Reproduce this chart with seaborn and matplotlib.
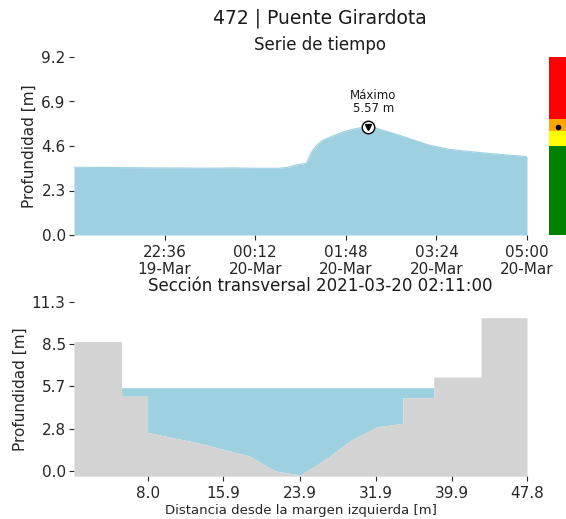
import matplotlib
matplotlib.use("Agg")
import matplotlib.pyplot as plt
import seaborn as sns
import numpy as np
import pandas as pd

# ---------------- data ----------------
series_times = ["2021-03-19 21:00", "2021-03-19 21:38", "2021-03-19 22:20", "2021-03-19 23:02",
                "2021-03-19 23:23", "2021-03-19 23:48", "2021-03-20 00:11", "2021-03-20 00:37",
                "2021-03-20 00:47", "2021-03-20 00:55", "2021-03-20 01:06", "2021-03-20 01:08",
                "2021-03-20 01:11", "2021-03-20 01:14", "2021-03-20 01:18", "2021-03-20 01:23",
                "2021-03-20 01:30", "2021-03-20 01:41", "2021-03-20 01:46", "2021-03-20 01:54",
                "2021-03-20 02:02", "2021-03-20 02:11", "2021-03-20 02:20", "2021-03-20 02:26",
                "2021-03-20 02:44", "2021-03-20 03:02", "2021-03-20 03:16", "2021-03-20 03:37",
                "2021-03-20 03:58", "2021-03-20 04:19", "2021-03-20 04:40", "2021-03-20 05:00"]
series_depth = [3.50, 3.49, 3.47, 3.46,
                3.45, 3.47, 3.45, 3.45,
                3.50, 3.62, 3.70, 3.90,
                4.22, 4.45, 4.68, 4.88,
                5.03, 5.25, 5.34, 5.45,
                5.53, 5.57, 5.53, 5.43,
                5.17, 4.87, 4.65, 4.43,
                4.32, 4.22, 4.13, 4.05]
max_time = "2021-03-20 02:11"
max_depth = 5.57
time_ticks = ["2021-03-19 22:36", "2021-03-20 00:12", "2021-03-20 01:48",
              "2021-03-20 03:24", "2021-03-20 05:00"]
top_yticks = [0.0, 2.3, 4.6, 6.9, 9.2]

# alert levels (lower, upper, colour)
level_bounds = [0.0, 4.6, 5.35, 6.0, 9.2]
level_colors = ["green", "yellow", "orange", "red"]
current_level = 5.57

# cross section
section_x = [0.2, 5.2, 5.2, 7.93, 7.93, 13.46, 18.64, 21.34, 24.0, 26.77,
             29.4, 32.1, 34.75, 34.75, 38.0, 38.0, 42.97, 42.97, 47.8]
section_y = [8.65, 8.65, 5.0, 5.0, 2.58, 1.85, 1.0, 0.0, -0.27, 0.85,
             2.1, 2.96, 3.19, 4.9, 4.9, 6.28, 6.28, 10.25, 10.25]
water_level = 5.57
sec_xticks = [8.0, 15.9, 23.9, 31.9, 39.9, 47.8]
sec_yticks = [0.0, 2.825, 5.65, 8.475, 11.3]

WATER = "#9dd1e0"
GROUND = "#d3d3d3"

# ---------------- figure ----------------
sns.set_style("ticks")
plt.rcParams['font.family'] = ['DejaVu Sans']
W, H = 566, 519
fig = plt.figure(figsize=(W / 100, H / 100), dpi=100)

def ax_rect(l, t, r, b):
    return [l / W, 1 - b / H, (r - l) / W, (b - t) / H]

# ---- time series ----
ax1 = fig.add_axes(ax_rect(74, 57, 527, 235))
df = pd.DataFrame({"t": pd.to_datetime(series_times), "d": series_depth})
sns.lineplot(data=df, x="t", y="d", ax=ax1, color=WATER, linewidth=0.8)
ax1.fill_between(df["t"], 0, df["d"], color=WATER, linewidth=0)
ax1.set_xlim(pd.Timestamp("2021-03-19 21:00"), pd.Timestamp("2021-03-20 05:00"))
ax1.set_ylim(0, 9.2)
tt = pd.to_datetime(time_ticks)
ax1.set_xticks(tt)
ax1.set_xticklabels([t.strftime("%H:%M\n%d-%b") for t in tt])
ax1.set_yticks(top_yticks)
ax1.set_yticklabels([f"{v:.1f}" for v in top_yticks])
ax1.set_xlabel("")
ax1.set_ylabel("Profundidad [m]", fontsize=11, labelpad=3)
ax1.tick_params(labelsize=11, length=3.5, colors="0.15")
ax1.tick_params(axis="y", pad=2.5)
sns.despine(ax=ax1, left=True, bottom=True)

mt = pd.Timestamp(max_time)
ax1.plot([mt], [max_depth], marker="o", markersize=9, markerfacecolor="white",
         markeredgecolor="black", markeredgewidth=1.0, zorder=5)
ax1.plot([mt], [max_depth], marker="v", markersize=5, color="black", zorder=6)
ax1.annotate(f"Máximo\n{max_depth:.2f} m", xy=(mt, max_depth), xytext=(6, 12),
             textcoords="offset pixels", ha="center", va="bottom", fontsize=8.5,
             color="0.1", linespacing=1.0)

# ---- alert colour bar ----
axc = fig.add_axes(ax_rect(549, 57, 566, 235))
for lo, hi, c in zip(level_bounds[:-1], level_bounds[1:], level_colors):
    axc.axhspan(lo, hi, color=c, linewidth=0)
axc.plot([0.5], [current_level], "o", color="black", markersize=3)
axc.set_xlim(0, 1)
axc.set_ylim(0, 9.2)
axc.axis("off")

# ---- cross section ----
ax2 = fig.add_axes(ax_rect(74, 302, 527, 476.2))
sx = np.array(section_x)
sy = np.array(section_y)
ymin = -0.35
ax2.fill_between(sx, sy, water_level, where=sy < water_level, interpolate=True,
                 color=WATER, linewidth=0)
ax2.fill_between(sx, ymin, sy, color=GROUND, linewidth=0)
ax2.set_xlim(0.2, 47.8)
ax2.set_ylim(ymin, 11.3)
ax2.set_xticks(sec_xticks)
ax2.set_xticklabels([f"{v:.1f}" for v in sec_xticks])
ax2.set_yticks(sec_yticks)
ax2.set_yticklabels([f"{v:.1f}" for v in sec_yticks])
ax2.set_xlabel("Distancia desde la margen izquierda [m]", fontsize=9.5, labelpad=2)
ax2.set_ylabel("Profundidad [m]", fontsize=11, labelpad=3)
ax2.tick_params(labelsize=11, length=3.5, colors="0.15")
ax2.tick_params(axis="y", pad=2.5)
sns.despine(ax=ax2, left=True, bottom=True)

# ---- titles ----
cx = 320 / W
fig.text(cx, 1 - 18 / H, "472 | Puente Girardota", ha="center", va="center", fontsize=13.5, color="0.1")
fig.text(cx, 1 - 45 / H, "Serie de tiempo", ha="center", va="center", fontsize=12, color="0.1")
fig.text(cx, 1 - 286 / H, "Sección transversal 2021-03-20 02:11:00", ha="center", va="center",
         fontsize=12, color="0.1")

fig.savefig("out.png", dpi=100)
